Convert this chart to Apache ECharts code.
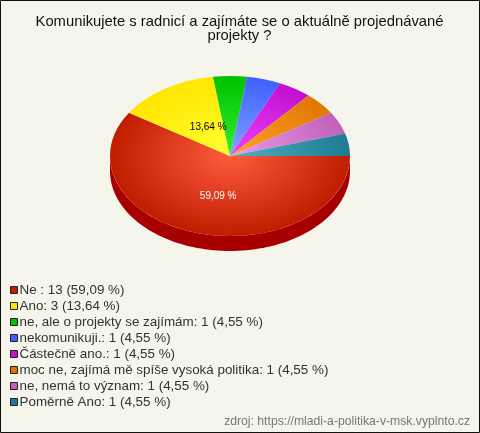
<!DOCTYPE html>
<html><head><meta charset="utf-8">
<style>html,body{margin:0;padding:0;background:#f5f5ec}#c{width:480px;height:433px}</style>
<script src="https://cdn.jsdelivr.net/npm/echarts@6/dist/echarts.min.js"></script>
</head><body><div id="c"></div>
<script>
const categories = ['Ne ','Ano','ne, ale o projekty se zajímám','nekomunikuji.','Částečně ano.','moc ne, zajímá mě spíše vysoká politika','ne, nemá to význam','Poměrně Ano'];
const counts = [13,3,1,1,1,1,1,1];
const percents = ['59,09','13,64','4,55','4,55','4,55','4,55','4,55','4,55'];
const innerColors = ['#ff5c3e','#ffff30','#30f030','#80a4ff','#f040ff','#ffa028','#ea9cea','#4eb0c6'];
const outerColors = ['#c01c00','#ffe600','#00c000','#4060ff','#c010d0','#e07800','#c060b8','#1f7a92'];
const sideColor = '#a80000';
const titleText = 'Komunikujete s radnicí a zajímáte se o aktuálně projednávané\nprojekty ?';
const sourceText = 'zdroj: https://mladi-a-politika-v-msk.vyplnto.cz';

const cx = 230, cy = 156, rx = 120, ry = 80, depth = 15;
const total = counts.reduce((a,b)=>a+b,0);
const labelColors = {0:'#ffffff',1:'#000000'};
const labelFrac = {0:[0.35,0.52],1:[0.336,0.43]};
const labels = categories.map((c,i)=>`${c}: ${counts[i]} (${percents[i]} %)`);

function sliceAngles(i){
  let before = 0;
  for(let k=0;k<i;k++) before += counts[k];
  return [before/total*Math.PI*2,(before+counts[i])/total*Math.PI*2];
}
function makeRender(i){
  return function(params, api){
    const [a0,a1] = sliceAngles(i);
    const children = [];
    const fa = a0, fb = Math.min(a1,Math.PI);
    if(fb>fa){
      const top=[],bot=[];
      const n=90;
      for(let s=0;s<=n;s++){
        const t=fa+(fb-fa)*s/n;
        top.push([cx+rx*Math.cos(t),cy+ry*Math.sin(t)]);
        bot.unshift([cx+rx*Math.cos(t),cy+ry*Math.sin(t)+depth]);
      }
      children.push({type:'polygon',shape:{points:top.concat(bot)},style:{fill:sideColor}});
    }
    children.push({type:'sector',x:cx,y:cy,scaleX:1,scaleY:ry/rx,
      shape:{cx:0,cy:0,r0:0,r:rx,startAngle:a0,endAngle:a1,clockwise:true},
      style:{fill:{type:'radial',x:0,y:0,r:rx,global:true,colorStops:[{offset:0,color:innerColors[i]},{offset:1,color:outerColors[i]}]}}});
    if(labelFrac[i]){
      const m=(a0+a1)/2;
      children.push({type:'text',x:cx+labelFrac[i][0]*rx*Math.cos(m),y:cy+labelFrac[i][1]*ry*Math.sin(m),z2:10,
        style:{text:percents[i]+' %',fill:labelColors[i],font:'10px "Liberation Sans"',align:'center',verticalAlign:'middle'}});
    }
    return {type:'group',children};
  };
}
const chart = echarts.init(document.getElementById('c'),null,{renderer:'canvas'});
chart.setOption({
  animation:false,
  backgroundColor:'#f5f5ec',
  title:{text:titleText,left:234.5,top:10,textAlign:'center',
    textStyle:{fontFamily:'Liberation Sans',fontSize:14.8,fontWeight:'normal',color:'#111',lineHeight:14}},
  legend:{orient:'vertical',left:10,top:282,padding:0,itemWidth:7,itemHeight:7,itemGap:0,icon:'rect',selectedMode:false,
    data:labels,
    itemStyle:{borderColor:'#222',borderWidth:1},
    textStyle:{fontFamily:'Liberation Sans',fontSize:13.4,color:'#333',lineHeight:16,padding:[0,0,0,-3]}},
  graphic:[
    {type:'text',right:10,top:416,style:{text:sourceText,fill:'#777',font:'12.2px "Liberation Sans"'}},
    {type:'rect',shape:{x:0.5,y:0.5,width:479,height:432},style:{fill:'none',stroke:'#111',lineWidth:1},silent:true}
  ],
  series:counts.map((c,i)=>({type:'custom',name:labels[i],coordinateSystem:'none',silent:true,
    itemStyle:{color:outerColors[i]},data:[[c]],renderItem:makeRender(i)}))
});
</script></body></html>
